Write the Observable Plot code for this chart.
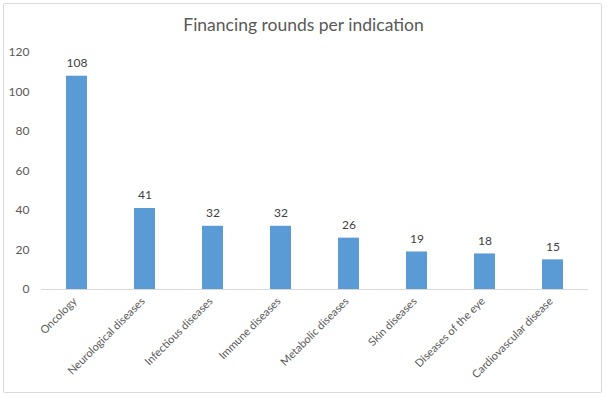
<!DOCTYPE html>
<html>
<head>
<meta charset="utf-8">
<script src="https://cdn.jsdelivr.net/npm/d3@7"></script>
<script src="https://cdn.jsdelivr.net/npm/@observablehq/plot@0.6"></script>
<style>
  html, body { margin: 0; padding: 0; background: #fff; }
  #wrap { position: relative; width: 607px; height: 398px; overflow: hidden; }
  #border { position: absolute; left: 3px; top: 3px; width: 597px; height: 388px; border: 1px solid #d9d9d9; border-radius: 2px; pointer-events: none; }
  #title { position: absolute; left: 0; top: 14px; width: 607px; text-align: center; font-family: Lato, "Open Sans", sans-serif; font-size: 17.5px; color: #595959; }
  #chart { position: absolute; left: 0; top: 0; }
</style>
</head>
<body>
<div id="wrap">
  <div id="chart"></div>
  <div id="border"></div>
  <div id="title">Financing rounds per indication</div>
</div>
<script>
const categories = ["Oncology", "Neurological diseases", "Infectious diseases", "Immune diseases", "Metabolic diseases", "Skin diseases", "Diseases of the eye", "Cardiovascular disease"];
const values = [108, 41, 32, 32, 26, 19, 18, 15];
const yTicks = [0, 20, 40, 60, 80, 100, 120];

const data = categories.map((c, i) => ({category: c, value: values[i]}));

const chart = Plot.plot({
  width: 607,
  height: 398,
  marginLeft: 41,
  marginRight: 19,
  marginTop: 52,
  marginBottom: 109,
  style: {fontFamily: "Lato, 'Open Sans', sans-serif", fontSize: "12px", color: "#595959", background: "transparent"},
  x: {domain: categories, paddingInner: 0.69, paddingOuter: 0.345, label: null},
  y: {domain: [0, 120], ticks: yTicks, label: null, tickSize: 0, tickPadding: 12},
  marks: [
    Plot.axisX({tickSize: 0, tickPadding: 10, tickRotate: -45, dx: -2, fontSize: 11, label: null, fill: "#595959"}),
    Plot.barY(data, {x: "category", y: "value", fill: "#5B9BD5"}),
    Plot.ruleY([0], {stroke: "#d9d9d9", strokeWidth: 1}),
    Plot.text(data, {x: "category", y: "value", text: d => String(d.value), dy: -13, fill: "#404040", fontSize: 12})
  ]
});
document.getElementById("chart").appendChild(chart);
</script>
</body>
</html>
